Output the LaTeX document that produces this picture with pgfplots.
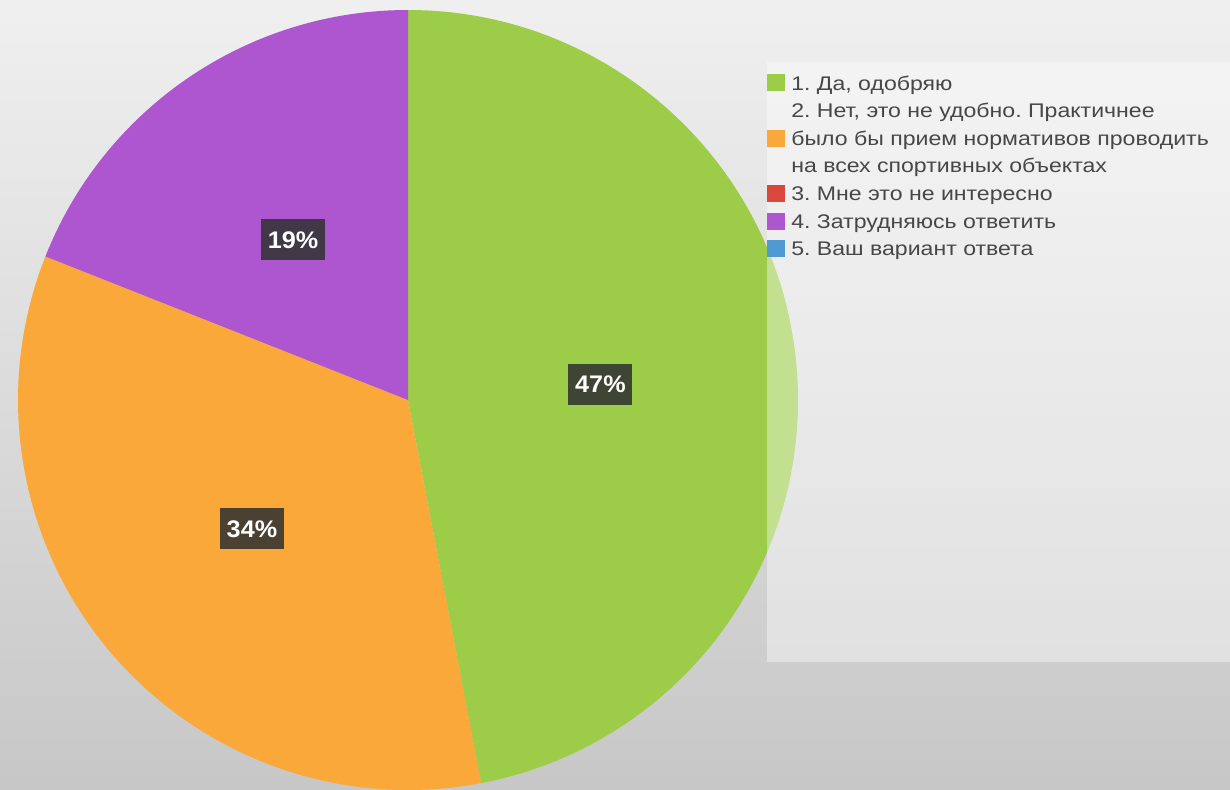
\documentclass[border=0pt]{standalone}
\usepackage{fontspec}
\setmainfont{Liberation Sans}
\newfontfamily\legfont[FakeStretch=1.17]{Liberation Sans}
\newfontfamily\labfont[FakeStretch=1.05]{Liberation Sans}
\usepackage{pgfplots}
\usepackage{pgfplotstable}
\pgfplotsset{compat=1.18}

\definecolor{slice0}{HTML}{9CCC48}
\definecolor{slice1}{HTML}{FBA83B}
\definecolor{slice2}{HTML}{D9483B}
\definecolor{slice3}{HTML}{AE55D0}
\definecolor{slice4}{HTML}{4E9BD4}
\definecolor{legtext}{HTML}{474747}

\pgfplotstableread{
id value
1 47
2 34
3 0
4 19
5 0
}\pietable

\begin{document}
\frenchspacing
\begin{tikzpicture}
\begin{axis}[
  scale only axis, width=922.5pt, height=591.75pt,
  xmin=0, xmax=1230, ymin=0, ymax=789, y dir=reverse,
  hide axis, clip=true,
]
% background
\fill[top color=black!6, middle color=black!12, bottom color=black!22]
  (axis cs:0,0) rectangle (axis cs:1230,789);
% pie slices
\def\a{90}
\pgfplotsforeachungrouped \i in {0,...,4}{%
  \pgfplotstablegetelem{\i}{value}\of\pietable
  \let\v\pgfplotsretval
  \pgfmathsetmacro\b{\a-\v*3.6}%
  \ifdim\v pt>0pt
    \edef\temp{\noexpand\fill[color=slice\i] (axis cs:408,400) -- ++(\a:292.5pt)
      arc[start angle=\a, end angle=\b, radius=292.5pt] -- cycle;}%
    \temp
  \fi
  \let\a\b
}
% percent labels
\def\a{90}
\pgfplotsforeachungrouped \i in {0,...,4}{%
  \pgfplotstablegetelem{\i}{value}\of\pietable
  \let\v\pgfplotsretval
  \pgfmathsetmacro\b{\a-\v*3.6}%
  \pgfmathsetmacro\m{(\a+\b)/2}%
  \ifdim\v pt>0pt
    \edef\temp{\noexpand\node[fill=black!80, fill opacity=0.88, text opacity=1,
      text=white, font=\noexpand\labfont\noexpand\fontsize{18}{20}\noexpand\selectfont\noexpand\bfseries,
      inner sep=0pt, minimum width=48pt, minimum height=31pt] at ([shift={(\m:148pt)}]axis cs:404,403) {\v\noexpand\%};}%
    \temp
  \fi
  \let\a\b
}
% legend panel
\fill[white, opacity=0.4] (axis cs:767,62) rectangle (axis cs:1230,662);
% legend squares
\fill[slice0] (axis cs:767,74) rectangle (axis cs:785,91);
\fill[slice1] (axis cs:767,130) rectangle (axis cs:785,147);
\fill[slice2] (axis cs:767,185) rectangle (axis cs:785,202);
\fill[slice3] (axis cs:767,213) rectangle (axis cs:785,230);
\fill[slice4] (axis cs:767,240) rectangle (axis cs:785,257);
% legend text
\begin{scope}[every node/.style={anchor=base west, inner sep=0pt, text=legtext,
    font=\legfont\fontsize{14.8}{16}\selectfont}]
\node at (axis cs:791,90) {1. Да, одобряю};
\node at (axis cs:791,117) {2. Нет, это не удобно. Практичнее};
\node at (axis cs:791,145) {было бы прием нормативов проводить};
\node at (axis cs:791,172) {на всех спортивных объектах};
\node at (axis cs:791,200) {3. Мне это не интересно};
\node at (axis cs:791,228) {4. Затрудняюсь ответить};
\node at (axis cs:791,255) {5. Ваш вариант ответа};
\end{scope}
\end{axis}
\pgfresetboundingbox
\useasboundingbox (current axis.south west) rectangle (current axis.north east);
\end{tikzpicture}
\end{document}
